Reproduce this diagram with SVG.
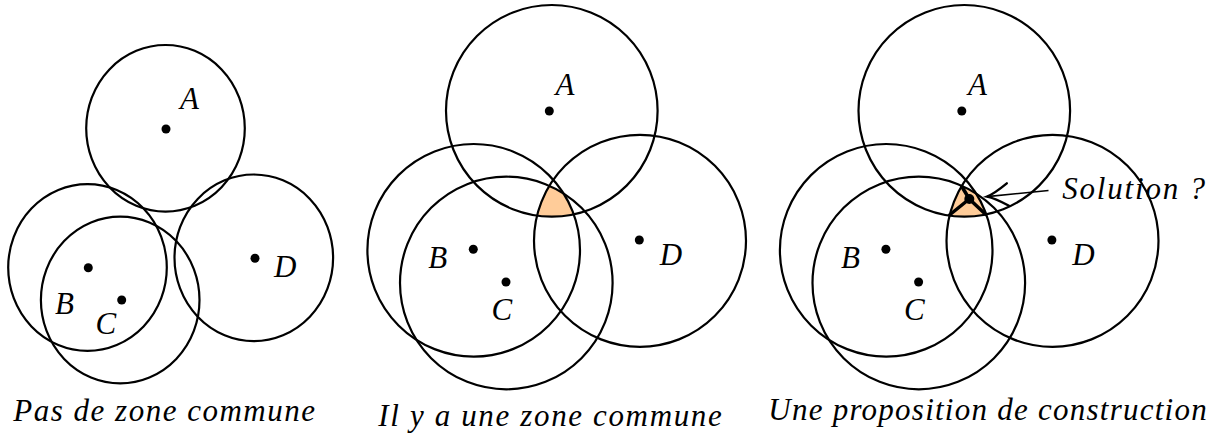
<svg xmlns="http://www.w3.org/2000/svg" width="1223" height="437" viewBox="0 0 1223 437">
<style>
.c{fill:none;stroke:#000;stroke-width:2.2}
.d{fill:#000}
text{font-family:'Liberation Serif',serif;font-style:italic;fill:#000}
.t{font-size:31px}
.cap{font-size:31px}
.zone{fill:#FFCC99}
.y{stroke:#000;stroke-width:3.5;stroke-linecap:round;fill:none}
.arr{stroke:#000;stroke-width:1.6;fill:none}
</style>
<defs>
<clipPath id="cB2"><circle cx="473.7" cy="250.3" r="106.3"/></clipPath>
<clipPath id="cC2"><circle cx="506.3" cy="283" r="106.3"/></clipPath>
<clipPath id="cD2"><circle cx="640" cy="240.8" r="106"/></clipPath>
<clipPath id="cB3"><circle cx="886.2" cy="250.3" r="106.3"/></clipPath>
<clipPath id="cC3"><circle cx="918.8" cy="283" r="106.3"/></clipPath>
<clipPath id="cD3"><circle cx="1052.5" cy="240.8" r="106"/></clipPath>
<marker id="to" markerUnits="userSpaceOnUse" orient="auto" refX="0" refY="0" markerWidth="30" markerHeight="30" viewBox="-16 -10 20 20" overflow="visible">
<path d="M -14,-7.5 Q -5,-1.5 0,0 Q -5,1.5 -14,7.5" fill="none" stroke="#000" stroke-width="1.6" stroke-linecap="round"/>
</marker>
</defs>

<!-- Panel 1 -->
<g id="p1-A"><ellipse class="c" cx="165.5" cy="128.3" rx="79.3" ry="83.3"/><circle class="d" cx="166" cy="129" r="4.5"/><text class="t" x="180" y="109.3">A</text></g>
<g id="p1-B"><ellipse class="c" cx="87.5" cy="267.5" rx="79.3" ry="83.3"/><circle class="d" cx="88.3" cy="267.7" r="4.5"/><text class="t" x="55" y="314">B</text></g>
<g id="p1-C"><ellipse class="c" cx="120.2" cy="300" rx="79.3" ry="83.3"/><circle class="d" cx="121.7" cy="300" r="4.5"/><text class="t" x="95.5" y="334">C</text></g>
<g id="p1-D"><ellipse class="c" cx="253.8" cy="257.8" rx="79.3" ry="83.3"/><circle class="d" cx="255" cy="258.3" r="4.5"/><text class="t" x="274" y="276.7">D</text></g>
<text id="cap1" class="cap" x="13.3" y="420.7" textLength="301.7" lengthAdjust="spacing">Pas de zone commune</text>

<!-- Panel 2 -->
<g id="p2-zone" clip-path="url(#cB2)"><g clip-path="url(#cC2)"><g clip-path="url(#cD2)"><circle class="zone" cx="551.8" cy="110.8" r="105.8"/></g></g></g>
<g id="p2-A"><circle class="c" cx="551.8" cy="110.8" r="105.8"/><circle class="d" cx="549.3" cy="111" r="4.5"/><text class="t" x="555.5" y="94.5">A</text></g>
<g id="p2-B"><circle class="c" cx="473.7" cy="250.3" r="106.3"/><circle class="d" cx="473.3" cy="249.3" r="4.5"/><text class="t" x="428.3" y="268.3">B</text></g>
<g id="p2-C"><circle class="c" cx="506.3" cy="283" r="106.3"/><circle class="d" cx="506" cy="282" r="4.5"/><text class="t" x="491.5" y="320">C</text></g>
<g id="p2-D"><circle class="c" cx="640" cy="240.8" r="106"/><circle class="d" cx="639.3" cy="240" r="4.5"/><text class="t" x="659.7" y="264.5">D</text></g>
<text id="cap2" class="cap" x="378.3" y="425.5" textLength="343.4" lengthAdjust="spacing">Il y a une zone commune</text>

<!-- Panel 3 -->
<g id="p3-zone" clip-path="url(#cB3)"><g clip-path="url(#cC3)"><g clip-path="url(#cD3)"><circle class="zone" cx="964.3" cy="110.8" r="105.8"/></g></g></g>
<g id="p3-A"><circle class="c" cx="964.3" cy="110.8" r="105.8"/><circle class="d" cx="961.8" cy="111" r="4.5"/><text class="t" x="968.1" y="94.5">A</text></g>
<g id="p3-B"><circle class="c" cx="886.2" cy="250.3" r="106.3"/><circle class="d" cx="885.9" cy="249.3" r="4.5"/><text class="t" x="840.9" y="268.3">B</text></g>
<g id="p3-C"><circle class="c" cx="918.8" cy="283" r="106.3"/><circle class="d" cx="918.6" cy="282" r="4.5"/><text class="t" x="904.1" y="320">C</text></g>
<g id="p3-D"><circle class="c" cx="1052.5" cy="240.8" r="106"/><circle class="d" cx="1051.9" cy="240" r="4.5"/><text class="t" x="1072.3" y="264.5">D</text></g>
<g id="p3-solution"><path class="y" d="M969.3,199 L961.8,186.5 M969.3,199 L949.5,215 M969.3,199 L985.5,214.3"/><circle class="d" cx="969.3" cy="199" r="5"/><text class="t" x="1062.3" y="199.3" textLength="142.7" lengthAdjust="spacing">Solution ?</text></g>
<text id="cap3" class="cap" x="768.3" y="420" textLength="438.4" lengthAdjust="spacing">Une proposition de construction</text>

<g id="connectors">
<line class="arr" x1="1048.5" y1="190.5" x2="987" y2="196.6" marker-end="url(#to)"/>
</g>
</svg>
